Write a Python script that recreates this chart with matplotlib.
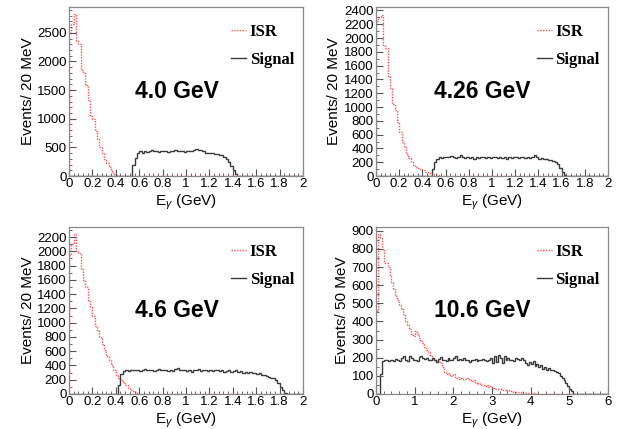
import numpy as np
import matplotlib
matplotlib.use('Agg')
import matplotlib.pyplot as plt
from matplotlib.ticker import MultipleLocator
from matplotlib.lines import Line2D

plt.rcParams['font.family'] = ['Liberation Sans', 'DejaVu Sans']
plt.rcParams['mathtext.fontset'] = 'custom'
plt.rcParams['mathtext.rm'] = 'Liberation Sans'
plt.rcParams['mathtext.it'] = 'Liberation Sans:italic'

# ---- data: histogram contents (bin width 20 MeV, 50 MeV for 10.6 GeV) ----
# ISR values start at first bin (E=0), signal values start at sig_start
isr_40 = [2500, 2650, 2820, 2350, 2300, 1850, 1800, 1580, 1330, 1050, 1000, 780,
          640, 500, 400, 300, 220, 150, 90, 40, 15, 5]
sig_40_start = 0.54
sig_40 = [200, 320, 400, 430, 410, 440, 420, 430, 450, 430, 440, 420, 440, 430,
          440, 420, 430, 440, 450, 430, 440, 430, 420, 440, 430, 440, 460, 470,
          460, 450, 430, 410, 400, 410, 400, 390, 380, 360, 370, 340, 300, 250,
          180, 100, 30]

isr_426 = [2250, 2300, 2330, 1900, 1850, 1450, 1270, 1050, 950, 780, 640, 500,
           420, 320, 260, 200, 160, 130, 110, 95, 80, 65, 55, 40, 30, 20, 10]
sig_426_start = 0.48
sig_426 = [100, 200, 240, 270, 260, 270, 280, 270, 290, 280, 260, 270, 300, 280,
           260, 270, 260, 280, 250, 270, 260, 270, 280, 260, 270, 260, 280, 270,
           260, 280, 260, 270, 250, 270, 260, 280, 270, 260, 270, 280, 260, 270,
           260, 280, 300, 270, 250, 260, 240, 250, 230, 230, 220, 200, 170, 120,
           60, 20]

isr_46 = [1950, 2100, 2240, 2000, 1980, 1750, 1600, 1500, 1300, 1220, 1100, 950,
          900, 800, 700, 620, 530, 480, 400, 330, 260, 220, 190, 150, 120, 90,
          60, 40, 25, 15, 5]
sig_46_start = 0.42
sig_46 = [130, 280, 320, 330, 320, 340, 330, 340, 330, 320, 330, 350, 340, 330,
          340, 320, 340, 350, 330, 340, 330, 320, 330, 320, 350, 360, 340, 330,
          340, 320, 330, 310, 340, 330, 350, 320, 330, 340, 320, 330, 320, 340,
          330, 320, 330, 310, 320, 330, 310, 320, 330, 310, 320, 300, 310, 300,
          310, 290, 300, 280, 290, 270, 260, 250, 240, 230, 220, 190, 150, 100,
          50, 15]

isr_106 = [460, 880, 860, 800, 720, 720, 700, 650, 620, 580, 540, 520, 490, 470,
           440, 400, 380, 360, 330, 320, 350, 330, 310, 300, 280, 260, 240, 230,
           210, 200, 190, 185, 175, 170, 150, 120, 110, 115, 105, 100, 110, 90,
           95, 80, 90, 85, 80, 90, 75, 70, 75, 60, 55, 60, 50, 50, 45, 50, 40,
           45, 35, 30, 30, 25, 25, 20, 22, 18, 20, 15, 15, 12, 12, 10, 10, 8, 8,
           6, 5, 5, 4, 3, 3, 2, 1, 1]
sig_106_start = 0.10
sig_106 = [110, 180, 190, 185, 180, 190, 185, 180, 195, 190, 180, 200, 210, 190,
           180, 210, 200, 185, 190, 180, 205, 210, 200, 195, 200, 190, 185, 200,
           190, 175, 195, 205, 185, 190, 180, 200, 185, 190, 200, 210, 190, 195,
           185, 200, 190, 185, 175, 190, 185, 195, 180, 190, 185, 195, 190, 180,
           185, 200, 170, 210, 175, 215, 200, 170, 210, 185, 200, 190, 185, 180,
           200, 195, 190, 200, 185, 170, 160, 175, 165, 180, 155, 165, 150, 160,
           140, 150, 135, 145, 130, 135, 125, 120, 115, 100, 90, 75, 60, 45, 30,
           15]

energies = ['4.0 GeV', '4.26 GeV', '4.6 GeV', '10.6 GeV']
ylabels = ['Events/ 20 MeV', 'Events/ 20 MeV', 'Events/ 20 MeV', 'Events/ 50 MeV']


def fill_hist(vals, start, width, nbins):
    h = np.zeros(nbins)
    i0 = int(round(start / width))
    h[i0:i0 + len(vals)] = vals
    return h


fig = plt.figure(figsize=(6.19, 4.29), dpi=100)
boxes = [[0.1115, 0.5897, 0.378, 0.394],
         [0.6074, 0.5897, 0.3748, 0.394],
         [0.1115, 0.0816, 0.378, 0.389],
         [0.6074, 0.0816, 0.3748, 0.389]]

panels = [
    (isr_40, sig_40, sig_40_start, 0.02, 2.0, 2950, 500, 100, 0.2, 0.04),
    (isr_426, sig_426, sig_426_start, 0.02, 2.0, 2450, 200, 100, 0.2, 0.04),
    (isr_46, sig_46, sig_46_start, 0.02, 2.0, 2340, 200, 100, 0.2, 0.04),
    (isr_106, sig_106, sig_106_start, 0.05, 6.0, 920, 100, 50, 1.0, 0.2),
]

isr_color = '#ff4d4d'
sig_color = '#3a3a3a'

for k, (isr, sig, s0, bw, xmax, ymax, ymaj, ymin, xmaj, xmin) in enumerate(panels):
    ax = fig.add_axes(boxes[k])
    nb = int(round(xmax / bw))
    edges = np.linspace(0, xmax, nb + 1)
    h_isr = fill_hist(isr, 0.0, bw, nb)
    h_sig = fill_hist(sig, s0, bw, nb)
    ax.stairs(h_isr, edges, color=isr_color, linestyle=(0, (1, 1)), linewidth=1.0)
    ax.stairs(h_sig, edges, color=sig_color, linewidth=1.0)

    ax.set_xlim(0, xmax)
    ax.set_ylim(0, ymax)
    ax.xaxis.set_major_locator(MultipleLocator(xmaj))
    ax.xaxis.set_minor_locator(MultipleLocator(xmin))
    ax.yaxis.set_major_locator(MultipleLocator(ymaj))
    ax.yaxis.set_minor_locator(MultipleLocator(ymin))
    if xmax == 2.0:
        ax.set_xticks(np.arange(0, 2.01, 0.2))
        ax.set_xticklabels(['0', '0.2', '0.4', '0.6', '0.8', '1', '1.2', '1.4',
                            '1.6', '1.8', '2'])
    ax.tick_params(which='both', direction='in', color='#555555', labelsize=9.5,
                   pad=1.5)
    ax.tick_params(which='major', length=5)
    ax.tick_params(which='minor', length=2.5)
    for sp in ax.spines.values():
        sp.set_color('#888888')
        sp.set_linewidth(0.9)

    ax.set_xlabel(r'E$_{\gamma}$ (GeV)', fontsize=11, labelpad=2)
    ax.set_ylabel(ylabels[k], fontsize=11, labelpad=2)

    ax.text(0.46, 0.50, energies[k], transform=ax.transAxes, ha='center',
            va='center', fontsize=16.5, fontweight='bold')

    handles = [Line2D([], [], color=isr_color, linestyle=(0, (1, 1)), lw=1.0),
               Line2D([], [], color=sig_color, lw=1.0)]
    leg = ax.legend(handles, ['ISR', 'Signal'], loc='upper left',
                    bbox_to_anchor=(0.63, 0.99), frameon=False,
                    handlelength=0.9, handletextpad=0.2, labelspacing=0.75,
                    prop={'family': 'Liberation Serif', 'weight': 'bold',
                          'size': 12})

fig.savefig('out.png', dpi=100)
plt.close()
